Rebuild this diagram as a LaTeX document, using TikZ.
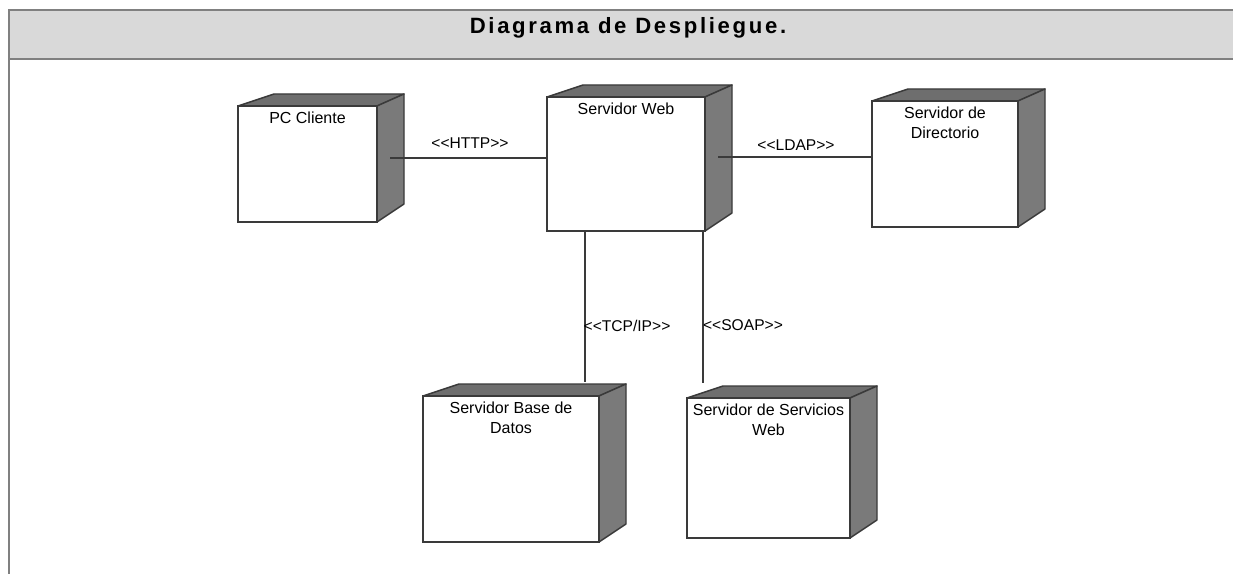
\documentclass[tikz,border=0pt]{standalone}
\usepackage{fontspec}
\setmainfont{Liberation Sans}
\newfontfamily\titlefont[LetterSpace=12]{Liberation Sans}
\usetikzlibrary{fit}

\definecolor{framegray}{HTML}{808080}
\definecolor{headfill}{HTML}{D9D9D9}
\definecolor{topgray}{HTML}{6E6E6E}
\definecolor{sidegray}{HTML}{7A7A7A}
\definecolor{edgegray}{HTML}{3A3A3A}

\tikzset{
  frameline/.style={draw=framegray, line width=1.5pt},
  devfront/.style={draw=edgegray, fill=white, line width=1.1pt, inner sep=0pt},
  devtop/.style={fill=topgray, draw=edgegray, line width=1.1pt, line join=round},
  devside/.style={fill=sidegray, draw=edgegray, line width=1.1pt, line join=round},
  devtext/.style={anchor=north, inner sep=0pt, align=center,
    font=\fontsize{12}{15}\selectfont, text=black},
  link/.style={draw=edgegray, line width=1pt},
  stereo/.style={inner sep=0pt, font=\fontsize{11.7}{14}\selectfont, text=black},
}

% guillemet-free stereotype brackets
\newcommand\stereotype[1]{<\kern0pt<#1>\kern0pt>}

% UML node: name, left, top, right, bottom (pixel units), caption
\newcommand\devbox[6]{%
  \filldraw[devtop] (#2,#3) -- ++(36,-12) -- ({#4+27},{#3-12}) -- (#4,#3) -- cycle;
  \filldraw[devside] (#4,#3) -- ({#4+27},{#3-12}) -- ({#4+27},{#5-18}) -- (#4,#5) -- cycle;
  \node[devfront, fit={(#2,#3) (#4,#5)}] (#1) {};
  \node[devtext] (#1-name) at ([yshift=-4.5pt]#1.north) {#6};
}

\begin{document}
\begin{tikzpicture}[x=0.75pt, y=-0.75pt]
  \useasboundingbox (0,0) rectangle (1233,574);
  \clip (0,0) rectangle (1233,574);

  % frame and header band
  \fill[white] (0,0) rectangle (1233,574);
  \fill[headfill] (9,10.5) rectangle (1240,59);
  \draw[frameline] (1240,10.5) -- (9,10.5) -- (9,580);
  \draw[frameline] (9,59) -- (1240,59);
  \node[anchor=base, inner sep=0pt, font=\titlefont\bfseries\fontsize{16.6}{19}\selectfont]
    (title) at (628,34) {Diagrama de Despliegue.};

  % nodes
  \devbox{pc}{238}{106}{377}{222}{PC Cliente}
  \devbox{web}{547}{97}{705}{231}{Servidor Web}
  \devbox{dir}{872}{101}{1018}{227}{Servidor de\\Directorio}
  \devbox{db}{423}{396}{599}{542}{Servidor Base de\\Datos}
  \devbox{ws}{687}{398}{850}{538}{Servidor de Servicios\\Web}

  % connectors
  \coordinate (httpA) at (390,158);
  \draw[link] (httpA) -- (httpA -| web.west);
  \coordinate (ldapA) at (718,157);
  \draw[link] (ldapA) -- (ldapA -| dir.west);
  \coordinate (tcpB) at (585,382);
  \draw[link] (tcpB |- web.south) -- (tcpB);
  \coordinate (soapB) at (703,383);
  \draw[link] (soapB |- web.south) -- (soapB);

  % stereotypes
  \node[stereo] (httpL) at (470,143) {\stereotype{HTTP}};
  \node[stereo] (ldapL) at (796,145) {\stereotype{LDAP}};
  \node[stereo] (tcpL) at (627,326) {\stereotype{TCP/IP}};
  \node[stereo] (soapL) at (743,325) {\stereotype{SOAP}};
\end{tikzpicture}
\end{document}
